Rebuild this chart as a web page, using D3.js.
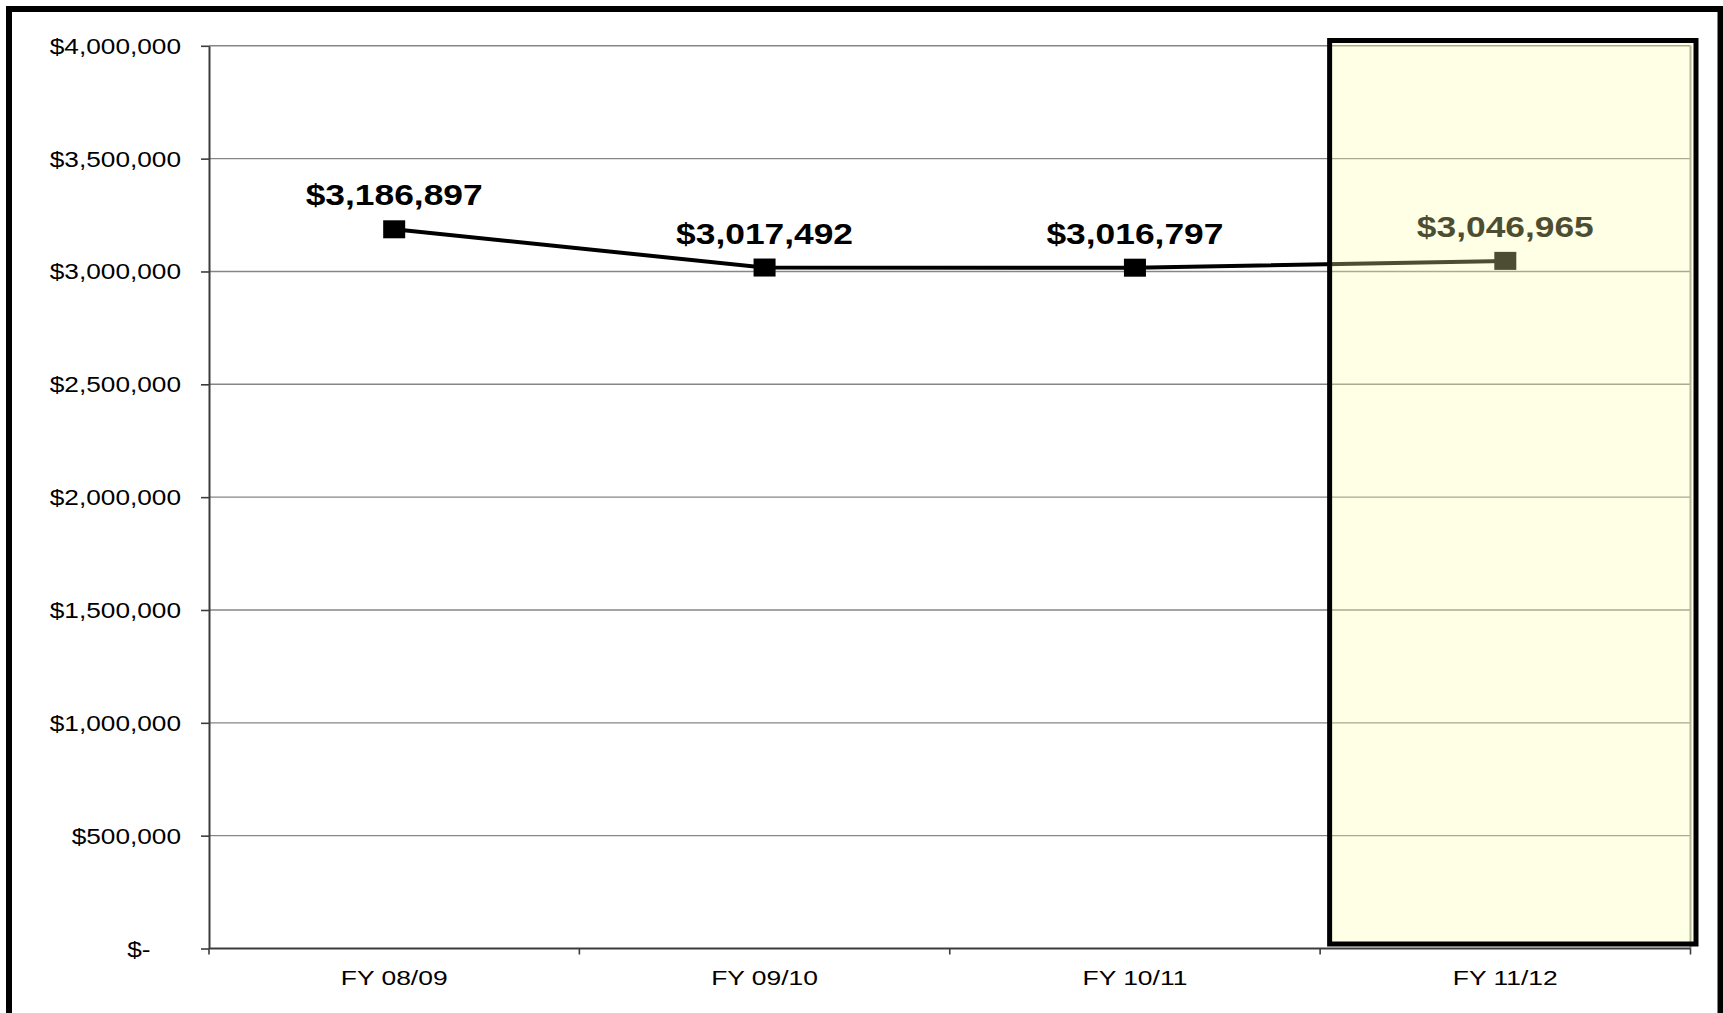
<!DOCTYPE html>
<html>
<head>
<meta charset="utf-8">
<script src="https://cdn.jsdelivr.net/npm/d3@7/dist/d3.min.js"></script>
<style>
  html, body { margin: 0; padding: 0; background: #fff; }
  svg { display: block; }
  text { font-family: "Liberation Sans", Arial, sans-serif; }
</style>
</head>
<body>
<svg id="chart" width="1723" height="1013"></svg>
<script>
// Annual totals by fiscal year
const categories = ["FY 08/09", "FY 09/10", "FY 10/11", "FY 11/12"];
const values = [3186897, 3017492, 3016797, 3046965];
const yTicks = [0, 500000, 1000000, 1500000, 2000000, 2500000, 3000000, 3500000, 4000000];
const highlighted = ["FY 11/12"];

const svg = d3.select("#chart");
const stretch = 1.22;   // horizontally widened lettering

const plot = { left: 209, right: 1690.5, top: 45.8, bottom: 948.5 };

const x = d3.scaleBand().domain(categories).range([plot.left, plot.right]).paddingInner(0).paddingOuter(0);
const y = d3.scaleLinear().domain([0, 4000000]).range([plot.bottom, plot.top]);

const money = d3.format("$,.0f");
const tickText = v => v === 0 ? "$-" : money(v);

// outer frame (runs off the bottom edge)
svg.append("rect")
  .attr("x", 9).attr("y", 9)
  .attr("width", 1711.5).attr("height", 1200)
  .attr("fill", "#fff").attr("stroke", "#000").attr("stroke-width", 6);

// horizontal gridlines
svg.append("g")
  .selectAll("line")
  .data(yTicks.filter(d => d > 0))
  .join("line")
  .attr("x1", plot.left).attr("x2", plot.right)
  .attr("y1", d => y(d)).attr("y2", d => y(d))
  .attr("stroke", "#868686").attr("stroke-width", 1.4);

// right edge of the plot area
svg.append("line")
  .attr("x1", plot.right).attr("x2", plot.right)
  .attr("y1", plot.top).attr("y2", plot.bottom)
  .attr("stroke", "#9a9a9a").attr("stroke-width", 2);

// y axis
const yAxis = svg.append("g")
  .attr("transform", `translate(${plot.left},0)`)
  .call(d3.axisLeft(y).tickValues(yTicks).tickSize(8).tickSizeOuter(0).tickFormat(tickText));
yAxis.select(".domain").attr("stroke", "#3c3c3c").attr("stroke-width", 2);
yAxis.selectAll(".tick line").attr("stroke", "#3c3c3c").attr("stroke-width", 1.6);
yAxis.selectAll(".tick text")
  .attr("fill", "#000")
  .attr("font-size", 21.5)
  .attr("dy", null)
  .attr("y", 7.5)
  .attr("x", d => (d === 0 ? -58.5 : -28) / stretch)
  .attr("transform", `scale(${stretch},1)`)
  .attr("text-anchor", "end");

// x axis with ticks on category boundaries
const xAxis = svg.append("g")
  .attr("transform", `translate(0,${plot.bottom})`);
xAxis.append("line")
  .attr("x1", plot.left).attr("x2", plot.right)
  .attr("stroke", "#3c3c3c").attr("stroke-width", 2);
const bounds = categories.map(c => x(c)).concat([x(categories[categories.length - 1]) + x.bandwidth()]);
xAxis.selectAll("line.bt")
  .data(bounds)
  .join("line")
  .attr("class", "bt")
  .attr("x1", d => d).attr("x2", d => d)
  .attr("y1", 0).attr("y2", 6)
  .attr("stroke", "#3c3c3c").attr("stroke-width", 1.6);
xAxis.selectAll("text")
  .data(categories)
  .join("text")
  .attr("transform", d => `translate(${x(d) + x.bandwidth() / 2},36) scale(1.26,1)`)
  .attr("text-anchor", "middle")
  .attr("font-size", 21)
  .attr("fill", "#000")
  .text(d => d);

// series line
const cx = d => x(d) + x.bandwidth() / 2;
const series = categories.map((c, i) => ({ c, v: values[i] }));
svg.append("path")
  .datum(series)
  .attr("d", d3.line().x(d => cx(d.c)).y(d => y(d.v)))
  .attr("fill", "none")
  .attr("stroke", "#000")
  .attr("stroke-width", 4);

// square markers
svg.append("g")
  .selectAll("rect")
  .data(series)
  .join("rect")
  .attr("x", d => cx(d.c) - 11)
  .attr("y", d => y(d.v) - 9)
  .attr("width", 22).attr("height", 18)
  .attr("fill", "#000");

// value labels
svg.append("g")
  .selectAll("text")
  .data(series)
  .join("text")
  .attr("transform", d => `translate(${cx(d.c)},${y(d.v) - 24}) scale(${stretch},1)`)
  .attr("text-anchor", "middle")
  .attr("font-size", 29)
  .attr("font-weight", "bold")
  .attr("fill", "#000")
  .text(d => money(d.v));

// highlight panel over the current year
svg.append("g")
  .selectAll("rect")
  .data(highlighted)
  .join("rect")
  .attr("x", d => x(d) + 9.5)
  .attr("y", plot.top - 5.3)
  .attr("width", d => x.bandwidth() - 4)
  .attr("height", plot.bottom - plot.top + 0.8)
  .attr("fill", "#ffffaa").attr("fill-opacity", 0.3)
  .attr("stroke", "#000").attr("stroke-width", 5);
</script>
</body>
</html>
